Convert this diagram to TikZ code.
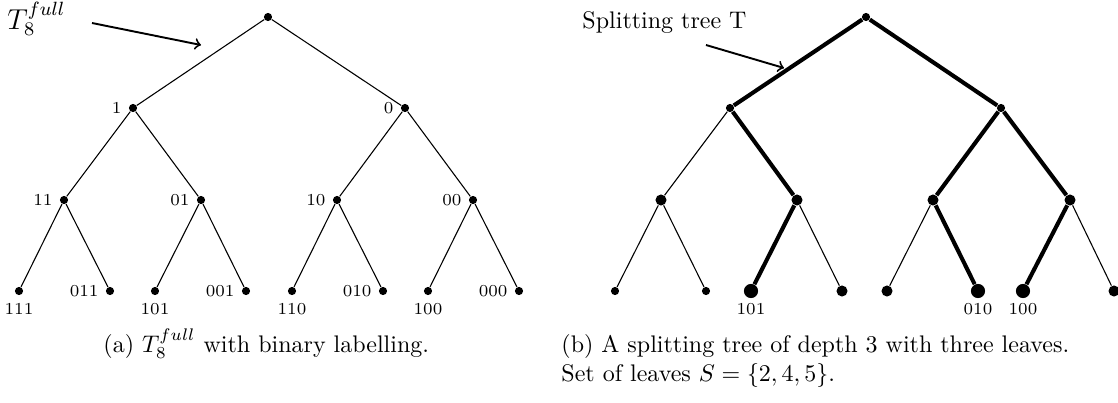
\documentclass[tikz,border=0pt]{standalone}
\usetikzlibrary{calc}
\begin{document}
\begin{tikzpicture}[x=0.4167pt,y=-0.4167pt,
  dot/.style={circle,fill=black,inner sep=0pt,minimum size=3.4pt},
  mdot/.style={circle,fill=black,inner sep=0pt,minimum size=4.6pt},
  bdot/.style={circle,fill=black,inner sep=0pt,minimum size=5.9pt},
  lbl/.style={font=\scriptsize,inner sep=0pt},
  thin edge/.style={line width=0.45pt},
  thick edge/.style={line width=1.7pt},
  pointer/.style={->,line width=0.8pt}]
\useasboundingbox (0,0) rectangle (1118,402);
% ---------------- left tree ----------------
\node[dot] (a) at (268,17) {};
\node[dot] (a1) at (133,108) {};
\node[dot] (a0) at (405,108) {};
\node[dot] (a11) at (64,200) {};
\node[dot] (a01) at (201,200) {};
\node[dot] (a10) at (337,200) {};
\node[dot] (a00) at (473,200) {};
\node[dot] (a111) at (19,291) {};
\node[dot] (a011) at (110,291) {};
\node[dot] (a101) at (155,291) {};
\node[dot] (a001) at (246,291) {};
\node[dot] (a110) at (292,291) {};
\node[dot] (a010) at (383,291) {};
\node[dot] (a100) at (428,291) {};
\node[dot] (a000) at (519,291) {};
\foreach \p/\c in {a/a1,a/a0,a1/a11,a1/a01,a0/a10,a0/a00,
  a11/a111,a11/a011,a01/a101,a01/a001,a10/a110,a10/a010,a00/a100,a00/a000}
  \draw[thin edge] (\p) -- (\c);
% labels to the left
\foreach \n/\t in {a1/1,a0/0,a11/11,a01/01,a10/10,a00/00,a011/011,a001/001,a010/010,a000/000}
  \node[lbl,anchor=east] (l\n) at ($(\n)+(-11,0)$) {\t};
% labels below
\foreach \n/\t in {a111/111,a101/101,a110/110,a100/100}
  \node[lbl] (l\n) at ($(\n)+(0,18)$) {\t};
\node[anchor=base west,font=\large,inner sep=0pt] (ta) at (7,29) {$T_8^{full}$};
\coordinate (pa1) at (92,23);
\coordinate (pa2) at (201,45);
\draw[pointer] (pa1) -- (pa2);
% ---------------- right tree ----------------
\node[dot] (b) at (866,17) {};
\node[dot] (b1) at (730,108) {};
\node[dot] (b0) at (1001,108) {};
\node[mdot] (b11) at (661,200) {};
\node[mdot] (b01) at (797,200) {};
\node[mdot] (b10) at (933,200) {};
\node[mdot] (b00) at (1070,200) {};
\node[dot] (b111) at (615,291) {};
\node[dot] (b011) at (706,291) {};
\node[bdot] (b101) at (751,291) {};
\node[mdot] (b001) at (842,291) {};
\node[mdot] (b110) at (887,291) {};
\node[bdot] (b010) at (978,291) {};
\node[bdot] (b100) at (1023,291) {};
\node[mdot] (b000) at (1114,291) {};
\foreach \p/\c in {b1/b11,b11/b111,b11/b011,b01/b001,b10/b110,b00/b000}
  \draw[thin edge] (\p) -- (\c);
\foreach \p/\c in {b/b1,b/b0,b1/b01,b0/b10,b0/b00,b01/b101,b10/b010,b00/b100}
  \draw[thick edge] (\p) -- (\c);
\foreach \n/\t in {b101/101,b010/010,b100/100}
  \node[lbl] (l\n) at ($(\n)+(0,18)$) {\t};
\node[anchor=base west,inner sep=0pt] (tb) at (582,28) {Splitting tree T};
\coordinate (pb1) at (706,45);
\coordinate (pb2) at (784,68);
\draw[pointer] (pb1) -- (pb2);
% ---------------- captions ----------------
\node[anchor=base west,inner sep=0pt] (capa) at (103,352) {(a) $T_8^{full}$ with binary labelling.};
\node[anchor=base west,inner sep=0pt] (capb1) at (561,352) {(b) A splitting tree of depth 3 with three leaves.};
\node[anchor=base west,inner sep=0pt] (capb2) at (561,381) {Set of leaves $S=\{2,4,5\}$.};
\end{tikzpicture}
\end{document}
